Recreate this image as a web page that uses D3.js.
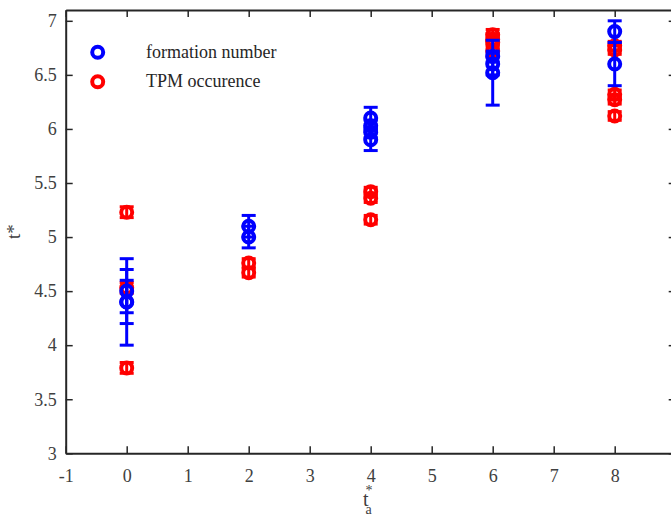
<!DOCTYPE html>
<meta charset="utf-8">
<script src="https://d3js.org/d3.v7.min.js"></script>
<style>
  body { margin: 0; background: #fff; }
  text { font-family: "Liberation Serif", "Times New Roman", serif; }
</style>
<body>
<svg id="graph" width="671" height="520"></svg>
<script>
  // x ticks / y ticks
  var xTicks = [-1, 0, 1, 2, 3, 4, 5, 6, 7, 8, 9];
  var yTicks = [3, 3.5, 4, 4.5, 5, 5.5, 6, 6.5, 7];

  // formation number (blue)
  var formX   = [0, 0, 0, 2, 2, 4, 4, 4, 4, 6, 6, 6, 8, 8];
  var formY   = [4.4, 4.4, 4.5, 5.1, 5.0, 6.1, 6.03, 5.97, 5.9, 6.67, 6.6, 6.52, 6.9, 6.6];
  var formErr = [0.4, 0.2, 0.2, 0.1, 0.1, 0.1, 0.05, 0.05, 0.1, 0.05, 0.1, 0.3, 0.1, 0.2];

  // TPM occurence (red)
  var tpmX   = [0, 0, 0, 2, 2, 4, 4, 4, 6, 6, 6, 6, 8, 8, 8, 8, 8];
  var tpmY   = [5.23, 4.53, 3.79, 4.76, 4.67, 5.42, 5.36, 5.16, 6.87, 6.83, 6.8, 6.72, 6.77, 6.73, 6.32, 6.27, 6.12];
  var tpmErr = [0.05, 0.05, 0.05, 0.04, 0.04, 0.04, 0.04, 0.04, 0.05, 0.05, 0.05, 0.05, 0.04, 0.04, 0.04, 0.04, 0.04];

  var axisColor = "#262626";
  var svg = d3.select("#graph");

  // box goes a bit past the right edge of the window, like the original crop
  var x = d3.scaleLinear().domain([-1, 9]).range([65.7, 675.7]);
  var y = d3.scaleLinear().domain([3, 7.1]).range([453.3, 10]);

  var plain = function (d) { return String(d) };

  // bottom + top axes, ticks pointing inwards
  svg.append("g")
    .attr("transform", "translate(0," + y(3) + ")")
    .call(d3.axisBottom(x).tickValues(xTicks).tickSizeInner(-7).tickSizeOuter(0).tickPadding(12).tickFormat(plain))
    .call(function (g) { g.select(".domain").attr("stroke", axisColor).attr("stroke-width", 2) })
    .call(function (g) { g.selectAll(".tick line").attr("stroke", axisColor).attr("stroke-width", 1.5) })
    .call(function (g) { g.selectAll(".tick text").attr("font-size", "18px").attr("fill", "#404040").attr("dy", "0.95em") });

  svg.append("g")
    .attr("transform", "translate(0," + y(7.1) + ")")
    .call(d3.axisTop(x).tickValues(xTicks).tickSizeInner(-7).tickSizeOuter(0).tickFormat(""))
    .call(function (g) { g.select(".domain").attr("stroke", axisColor).attr("stroke-width", 2) })
    .call(function (g) { g.selectAll(".tick line").attr("stroke", axisColor).attr("stroke-width", 1.5) });

  // left + right axes
  svg.append("g")
    .attr("transform", "translate(" + x(-1) + ",0)")
    .call(d3.axisLeft(y).tickValues(yTicks).tickSizeInner(-7).tickSizeOuter(0).tickPadding(9).tickFormat(plain))
    .call(function (g) { g.select(".domain").attr("stroke", axisColor).attr("stroke-width", 2) })
    .call(function (g) { g.selectAll(".tick line").attr("stroke", axisColor).attr("stroke-width", 1.5) })
    .call(function (g) { g.selectAll(".tick text").attr("font-size", "18px").attr("fill", "#404040") });

  svg.append("g")
    .attr("transform", "translate(" + x(9) + ",0)")
    .call(d3.axisRight(y).tickValues(yTicks).tickSizeInner(-7).tickSizeOuter(0).tickFormat(""))
    .call(function (g) { g.select(".domain").attr("stroke", axisColor).attr("stroke-width", 2) })
    .call(function (g) { g.selectAll(".tick line").attr("stroke", axisColor).attr("stroke-width", 1.5) });

  // axis labels
  svg.append("text")
    .attr("transform", "translate(20," + y(5.05) + ") rotate(-90)")
    .attr("text-anchor", "middle")
    .attr("font-size", "19px")
    .attr("fill", "#404040")
    .text("t*");

  var xl = svg.append("text")
    .attr("x", 363)
    .attr("y", 506)
    .attr("font-size", "20px")
    .attr("fill", "#404040");
  xl.append("tspan").text("t");
  xl.append("tspan").attr("font-size", "14px").attr("dx", "-3").attr("dy", "-11").text("*");
  xl.append("tspan").attr("font-size", "14px").attr("dx", "-7").attr("dy", "19").text("a");

  // draws one errorbar series
  function drawSeries(xs, ys, errs, color) {
    var pts = xs.map(function (d, i) { return { x: d, y: ys[i], e: errs[i] } });
    var g = svg.append("g").attr("stroke", color).attr("fill", "none");

    g.selectAll(".bar").data(pts).enter().append("line")
      .attr("x1", function (d) { return x(d.x) })
      .attr("x2", function (d) { return x(d.x) })
      .attr("y1", function (d) { return y(d.y - d.e) })
      .attr("y2", function (d) { return y(d.y + d.e) })
      .attr("stroke-width", 3);

    // caps top and bottom
    [-1, 1].forEach(function (s) {
      g.selectAll(".cap" + s).data(pts).enter().append("line")
        .attr("x1", function (d) { return x(d.x) - 7 })
        .attr("x2", function (d) { return x(d.x) + 7 })
        .attr("y1", function (d) { return y(d.y + s * d.e) })
        .attr("y2", function (d) { return y(d.y + s * d.e) })
        .attr("stroke-width", 3);
    });

    g.selectAll("circle").data(pts).enter().append("circle")
      .attr("cx", function (d) { return x(d.x) })
      .attr("cy", function (d) { return y(d.y) })
      .attr("r", 5.5)
      .attr("stroke-width", 4);
  }

  drawSeries(tpmX, tpmY, tpmErr, "#ff0000");
  drawSeries(formX, formY, formErr, "#0000ff");

  // legend
  var legend = [{ name: "formation number", color: "#0000ff" }, { name: "TPM occurence", color: "#ff0000" }];
  var lg = svg.selectAll(".legend").data(legend).enter().append("g")
    .attr("transform", function (d, i) { return "translate(0," + (52.3 + i * 29.5) + ")" });
  lg.append("circle")
    .attr("cx", 97.7).attr("cy", 0).attr("r", 5.5)
    .attr("fill", "none").attr("stroke", function (d) { return d.color }).attr("stroke-width", 4);
  lg.append("text")
    .attr("x", 146).attr("y", 5.5)
    .attr("font-size", "18px").attr("fill", "#262626")
    .text(function (d) { return d.name });
</script>
</body>
